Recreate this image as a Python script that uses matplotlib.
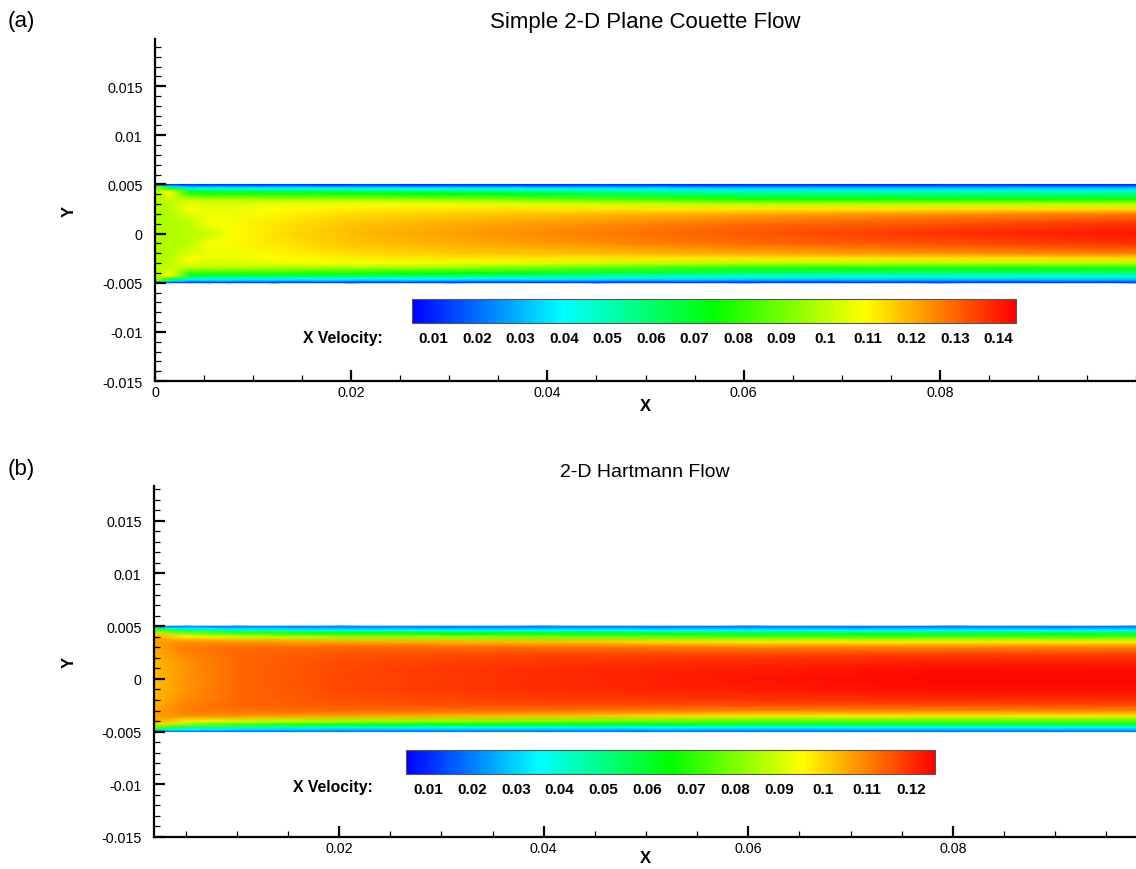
import numpy as np
import matplotlib
matplotlib.use("Agg")
import matplotlib.pyplot as plt
from matplotlib.colors import LinearSegmentedColormap, Normalize
from matplotlib.cm import ScalarMappable
from matplotlib.ticker import MultipleLocator, FuncFormatter

plt.rcParams['font.family'] = ['Liberation Sans', 'DejaVu Sans']
plt.rcParams['axes.unicode_minus'] = False

# ---------------- data ----------------
# half-channel y stations (m), profile is symmetric about y = 0
y_half = [0.0, 0.001, 0.002, 0.0025, 0.003, 0.0035, 0.004, 0.0043, 0.0046, 0.0048, 0.005]

# (a) Simple 2-D Plane Couette Flow : x stations and X-velocity profiles
x_a = [0.0, 0.0015, 0.0035, 0.0055, 0.0075, 0.012, 0.02, 0.03, 0.045, 0.06, 0.08, 0.1]
u_a = [
    [0.098, 0.098, 0.098, 0.098, 0.098, 0.098, 0.098, 0.098, 0.096, 0.090, 0.010],
    [0.098, 0.098, 0.098, 0.099, 0.100, 0.102, 0.106, 0.109, 0.075, 0.045, 0.010],
    [0.099, 0.100, 0.104, 0.109, 0.106, 0.100, 0.082, 0.068, 0.045, 0.030, 0.010],
    [0.101, 0.108, 0.107, 0.106, 0.104, 0.098, 0.080, 0.066, 0.044, 0.030, 0.010],
    [0.109, 0.108, 0.107, 0.106, 0.104, 0.098, 0.080, 0.065, 0.043, 0.030, 0.010],
    [0.113, 0.112, 0.110, 0.109, 0.106, 0.097, 0.080, 0.064, 0.042, 0.029, 0.010],
    [0.118, 0.117, 0.114, 0.111, 0.108, 0.096, 0.078, 0.062, 0.041, 0.028, 0.010],
    [0.122, 0.120, 0.116, 0.112, 0.107, 0.094, 0.075, 0.060, 0.040, 0.027, 0.010],
    [0.127, 0.124, 0.118, 0.112, 0.103, 0.086, 0.066, 0.054, 0.038, 0.026, 0.010],
    [0.132, 0.129, 0.121, 0.112, 0.100, 0.078, 0.060, 0.048, 0.035, 0.024, 0.010],
    [0.137, 0.133, 0.124, 0.113, 0.100, 0.077, 0.058, 0.047, 0.034, 0.024, 0.010],
    [0.141, 0.137, 0.127, 0.114, 0.100, 0.077, 0.058, 0.047, 0.034, 0.024, 0.010],
]

# (b) 2-D Hartmann Flow
x_b = [0.0019, 0.005, 0.01, 0.02, 0.04, 0.06, 0.08, 0.0979]
u_b = [
    [0.103, 0.103, 0.104, 0.105, 0.106, 0.107, 0.106, 0.100, 0.075, 0.050, 0.018],
    [0.108, 0.108, 0.109, 0.110, 0.110, 0.109, 0.097, 0.082, 0.052, 0.035, 0.018],
    [0.113, 0.113, 0.113, 0.113, 0.112, 0.108, 0.090, 0.073, 0.045, 0.031, 0.018],
    [0.117, 0.117, 0.116, 0.115, 0.113, 0.106, 0.085, 0.068, 0.040, 0.029, 0.018],
    [0.120, 0.120, 0.118, 0.116, 0.112, 0.103, 0.080, 0.064, 0.037, 0.028, 0.018],
    [0.123, 0.122, 0.119, 0.116, 0.110, 0.098, 0.075, 0.060, 0.035, 0.027, 0.018],
    [0.125, 0.124, 0.120, 0.116, 0.110, 0.098, 0.075, 0.060, 0.035, 0.027, 0.018],
    [0.125, 0.124, 0.120, 0.116, 0.110, 0.098, 0.075, 0.060, 0.035, 0.027, 0.018],
]

# legend ranges and labels
range_a = (0.005, 0.144)
range_b = (0.005, 0.1255)
ticks_a = [0.01, 0.02, 0.03, 0.04, 0.05, 0.06, 0.07, 0.08, 0.09, 0.1, 0.11, 0.12, 0.13, 0.14]
ticks_b = [0.01, 0.02, 0.03, 0.04, 0.05, 0.06, 0.07, 0.08, 0.09, 0.1, 0.11, 0.12]
titles = ["Simple 2-D Plane Couette Flow", "2-D Hartmann Flow"]
panel_tags = ["(a)", "(b)"]

# ---------------- figure ----------------
W, H = 1136, 870
fig = plt.figure(figsize=(W / 100, H / 100), dpi=100)
cmap = LinearSegmentedColormap.from_list(
    "tec", ["#0000ff", "#00ffff", "#00ff00", "#ffff00", "#ff0000"])


def fx(px):
    return px / W


def fy(py):
    return 1 - py / H


def full_field(xs, prof):
    yh = np.asarray(y_half)
    y_full = np.concatenate([-yh[::-1], yh[1:]])
    P = np.asarray(prof)
    C = np.concatenate([P[:, ::-1], P[:, 1:]], axis=1).T  # (ny, nx)
    X, Y = np.meshgrid(np.asarray(xs), y_full)
    return X, Y, C


fmt = FuncFormatter(lambda v, p: ("%g" % round(v, 6)) if abs(v) > 1e-12 else "0")


def style_axes(ax, xlim, ylim, xmajor):
    ax.set_xlim(*xlim)
    ax.set_ylim(*ylim)
    ax.spines['top'].set_visible(False)
    ax.spines['right'].set_visible(False)
    for s in ('left', 'bottom'):
        ax.spines[s].set_linewidth(1.6)
    ax.set_xticks(xmajor)
    ax.xaxis.set_minor_locator(MultipleLocator(0.005))
    ax.yaxis.set_major_locator(MultipleLocator(0.005))
    ax.yaxis.set_minor_locator(MultipleLocator(0.001))
    ax.xaxis.set_major_formatter(fmt)
    ax.yaxis.set_major_formatter(fmt)
    ax.tick_params(which='major', direction='in', length=8, width=1.6, labelsize=10.3)
    ax.tick_params(which='minor', direction='in', length=4.5, width=0.9)
    ax.tick_params(axis='x', which='major', pad=3)
    ax.tick_params(axis='y', which='major', pad=9)
    ax.tick_params(top=False, right=False, which='both')


panels = [
    dict(x=x_a, u=u_a, rng=range_a, ticks=ticks_a,
         ax_px=(155, 40, 1136, 382), xlim=(0.0, 0.1), ylim=(-0.015, 0.0198),
         xmajor=[0, 0.02, 0.04, 0.06, 0.08],
         cb_px=(412, 300, 1016, 324), xv_px=(303, 338), tag_base=27, title_pad=8.5,
         title_size=16, xlab_top=399),
    dict(x=x_b, u=u_b, rng=range_b, ticks=ticks_b,
         ax_px=(154, 487, 1136, 838), xlim=(0.0019, 0.0979), ylim=(-0.015, 0.0183),
         xmajor=[0.02, 0.04, 0.06, 0.08],
         cb_px=(406, 751, 935, 775), xv_px=(293, 788), tag_base=475, title_pad=7.5,
         title_size=14, xlab_top=851),
]

for i, p in enumerate(panels):
    l, t, r, b = p['ax_px']
    ax = fig.add_axes([fx(l), fy(b), (r - l) / W, (b - t) / H])
    norm = Normalize(*p['rng'])
    X, Y, C = full_field(p['x'], p['u'])
    ax.pcolormesh(X, Y, C, cmap=cmap, norm=norm, shading='gouraud', zorder=1)
    style_axes(ax, p['xlim'], p['ylim'], p['xmajor'])
    ax.set_title(titles[i], fontsize=p['title_size'], pad=p['title_pad'])
    ax.set_xlabel("X", fontsize=12, fontweight='bold')
    ax.set_ylabel("Y", fontsize=12, fontweight='bold')
    ax.xaxis.set_label_coords(0.5, (b - p['xlab_top']) / (b - t))
    ax.yaxis.set_label_coords((77 - l) / (r - l), 0.5)
    fig.text(fx(8), fy(p['tag_base']), panel_tags[i], fontsize=16, va='baseline', ha='left')

    cl, ct, cr, cbm = p['cb_px']
    cax = fig.add_axes([fx(cl), fy(cbm), (cr - cl) / W, (cbm - ct) / H])
    cb = fig.colorbar(ScalarMappable(norm=norm, cmap=cmap), cax=cax,
                      orientation='horizontal', ticks=p['ticks'])
    cb.outline.set_linewidth(0.8)
    cb.outline.set_edgecolor('#555555')
    cax.tick_params(length=0, pad=6, labelsize=11)
    cax.set_xticklabels(["%g" % v for v in p['ticks']], fontweight='bold')
    fig.text(fx(p['xv_px'][0]), fy(p['xv_px'][1]), "X Velocity:", fontsize=11.3,
             fontweight='bold', va='center', ha='left')

fig.savefig("out.png", dpi=100)
